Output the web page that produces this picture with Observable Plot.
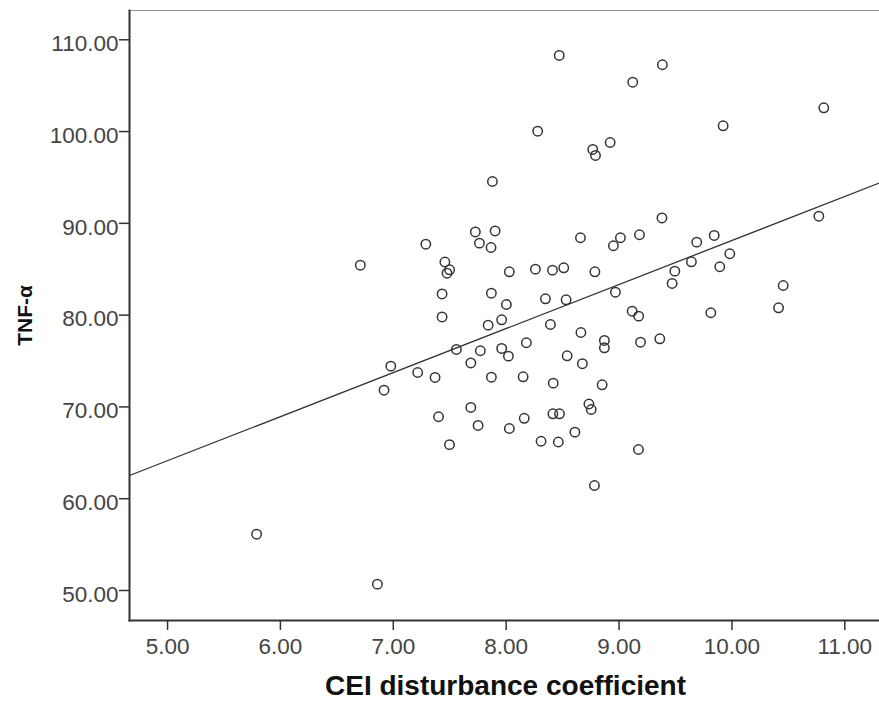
<!DOCTYPE html>
<html><head><meta charset="utf-8">
<script src="https://cdn.jsdelivr.net/npm/d3@7"></script>
<script src="https://cdn.jsdelivr.net/npm/@observablehq/plot@0.6"></script>
<style>body{margin:0;background:#fff;}</style>
</head><body><div id="chart"></div>
<script>
const cei = [8.47,8.279,8.767,8.791,7.878,7.727,7.902,7.288,7.763,7.866,
  8.658,9.121,9.384,10.814,9.922,8.921,9.380,9.181,9.012,8.950,
  9.688,9.843,10.770,9.981,6.708,7.457,7.499,7.476,8.028,8.259,
  8.410,8.510,8.786,7.432,7.432,7.869,8.002,8.348,8.531,7.840,
  7.960,8.392,8.662,7.559,7.771,7.960,8.020,8.179,7.687,6.978,
  7.216,7.370,6.918,7.869,8.150,8.540,8.675,8.417,7.687,7.401,
  7.751,8.028,8.160,8.414,8.472,8.733,8.753,8.609,7.498,8.309,
  8.462,9.641,9.892,9.494,9.470,8.968,10.454,10.413,9.116,9.174,
  9.813,8.870,8.870,9.190,9.361,8.850,9.172,8.782,5.789,6.859];
const tnf = [108.29,100.04,98.05,97.40,94.56,89.06,89.17,87.73,87.84,87.37,
  88.43,105.38,107.28,102.59,100.63,98.81,90.59,88.76,88.43,87.56,
  87.95,88.68,90.78,86.69,85.44,85.79,84.94,84.57,84.72,85.01,
  84.90,85.16,84.72,82.31,79.80,82.39,81.16,81.78,81.67,78.91,
  79.49,78.98,78.11,76.26,76.12,76.37,75.53,76.99,74.79,74.44,
  73.75,73.21,71.82,73.24,73.28,75.57,74.71,72.59,69.94,68.93,
  67.98,67.65,68.76,69.25,69.25,70.32,69.72,67.25,65.89,66.26,
  66.18,85.81,85.27,84.79,83.45,82.50,83.23,80.80,80.43,79.89,
  80.26,77.24,76.44,77.05,77.42,72.41,65.36,61.44,56.13,50.69];
const xTicks = [5, 6, 7, 8, 9, 10, 11];
const yTicks = [50, 60, 70, 80, 90, 100, 110];
const xDomain = [4.663, 11.325];
const yDomain = [46.73, 113.19];
const xLabel = "CEI disturbance coefficient";
const yLabel = "TNF-α";

const data = cei.map((x, i) => ({x, y: tnf[i]}));
const mx = d3.mean(cei), my = d3.mean(tnf);
const slope = d3.sum(data, d => (d.x - mx) * (d.y - my)) / d3.sum(data, d => (d.x - mx) ** 2);
const intercept = my - slope * mx;
const fitLine = xDomain.map(x => ({x, y: intercept + slope * x}));
const fmt = d3.format(".2f");

const chart = Plot.plot({
  width: 879, height: 702,
  marginLeft: 129, marginRight: -2, marginTop: 10, marginBottom: 82,
  style: {fontFamily: "'Liberation Sans', Arial, sans-serif", background: "#fff", color: "#333", overflow: "hidden"},
  x: {domain: xDomain},
  y: {domain: yDomain},
  marks: [
    Plot.frame({stroke: "#999", strokeWidth: 1}),
    Plot.frame({anchor: "left", stroke: "#333", strokeWidth: 2}),
    Plot.frame({anchor: "bottom", stroke: "#333", strokeWidth: 2}),
    Plot.axisX({ticks: xTicks, tickFormat: fmt, tickSize: 10, tickPadding: 8, fontSize: 22.5, label: null, stroke: "#333", strokeWidth: 1.5, fill: "#444"}),
    Plot.axisY({ticks: yTicks, tickFormat: fmt, tickSize: 10, label: null, stroke: "#333", strokeWidth: 1.5, fill: "none"}),
    Plot.axisY({ticks: yTicks, tickFormat: fmt, tickSize: 10, tickPadding: 1, dy: 4, fontSize: 22.5, label: null, stroke: "none", fill: "#444"}),
    Plot.line(fitLine, {x: "x", y: "y", stroke: "#333", strokeWidth: 1.3, clip: true}),
    Plot.dot(data, {x: "x", y: "y", r: 4.7, stroke: "#333", strokeWidth: 1.5, fill: "none"}),
    Plot.text([xLabel], {frameAnchor: "bottom", dy: 74, fontSize: 28, fontWeight: "bold", fill: "#111"}),
    Plot.text([yLabel], {frameAnchor: "left", textAnchor: "middle", dx: -104, rotate: -90, fontSize: 21, fontWeight: "bold", fill: "#111"})
  ]
});
document.getElementById("chart").append(chart);
</script>
</body></html>
